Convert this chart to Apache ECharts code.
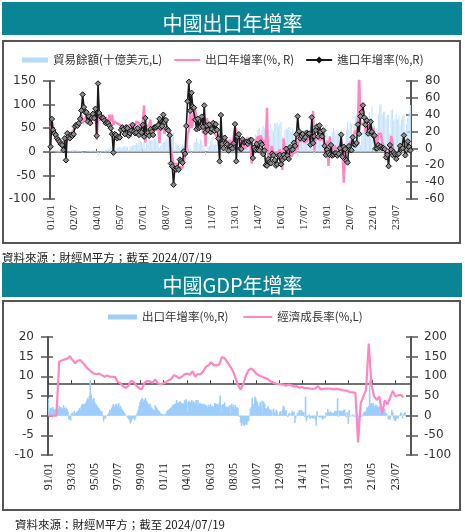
<!DOCTYPE html>
<html><head><meta charset="utf-8">
<script src="https://cdn.jsdelivr.net/npm/echarts@6/dist/echarts.min.js"></script>
<style>html,body{margin:0;padding:0;background:#fff}#c{width:465px;height:532px}</style>
</head><body><div id="c"></div>
<script>
// ---------- Chart 1: China exports (monthly 2001/01 - 2024/06) ----------
const exportYoY = [
 27,22,19,15,13,10,6,5,4,3,0,4,
 5,10,14,14,17,20,19,24,28,27,30,30,
 40,30,34,33,37,33,32,30,31,40,36,42,
 10,34,38,33,35,40,34,37,33,30,40,32,
 40,28,32,31,30,30,28,30,26,28,25,20,
 28,22,29,24,25,23,23,32,30,30,29,24,
 33,51,7,27,29,27,34,23,23,22,23,22,
 27,6.5,30.6,21.8,28.2,17.6,26.9,21.1,21.5,19.2,-2.2,-2.8,
 -17.5,-25.7,-17.1,-22.6,-26.4,-21.4,-23,-23.4,-15.2,-13.8,-1.2,17.7,
 21,45.7,24.3,30.5,48.5,43.9,38.1,34.4,25.1,22.9,34.9,17.9,
 37.7,2.4,35.8,29.9,19.4,17.9,20.4,24.5,17.1,15.9,13.8,13.4,
 -0.5,18.4,8.9,4.9,15.3,11.3,1,2.7,9.9,11.6,2.9,14.1,
 25,21.8,10,14.7,1,-3.1,5.1,7.2,-0.3,5.6,12.7,4.3,
 10.6,-18.1,-6.6,0.9,7,7.2,14.5,9.4,15.3,11.6,4.7,9.7,
 -3.3,48.3,-15,-6.4,-2.5,2.8,-8.3,-5.5,-3.7,-6.9,-6.8,-1.4,
 -11.2,-25.4,11.5,-1.8,-4.1,-4.8,-4.4,-2.8,-10,-7.3,0.1,-6.1,
 7.9,-1.3,16.4,8,8.7,11.3,7.2,5.5,8.1,6.9,12.3,10.9,
 11.1,44.5,-2.7,12.9,12.6,11.3,12.2,9.8,14.5,15.6,5.4,-4.4,
 9.1,-20.7,14.2,-2.7,1.1,-1.3,3.3,-1,-3.2,-0.9,-1.1,7.6,
 -3,-40.6,-6.6,3.5,-3.3,0.5,7.2,9.5,9.9,11.4,21.1,18.1,
 24.6,90,30.6,32.3,27.9,32.2,19.3,25.6,28.1,27.1,22,20.9,
 24.1,6.2,14.7,3.9,16.9,17.9,18,7.1,5.7,-0.3,-8.7,-9.9,
 -10,-1.3,14.8,8.5,-7.5,-12.4,-14.5,-8.8,-6.2,-6.4,0.5,2.3,
 8,5.6,-7.5,1.5,7.6,8.6
];
const importYoY = [
 2,35,22,18,16,12,10,8,5,4,-2,12,
 -14,18,14,12,16,15,17,26,28,27,30,35,
 45,64,49,43,43,32,38,30,36,41,36,47,
 15,77,42,38,36,36,33,30,31,30,27,24,
 17,-5,17,16,12,14,13,22,25,23,17,25,
 24,15,18,21,28,20,18,19,24,16,20,19,
 28,14,36,17,19,15,23,20,16,25,25,26,
 27.6,35.1,24.6,26.4,40,31.1,33.7,23.1,21.3,15.6,-17.9,-21.3,
 -43.1,-24.1,-25.1,-23,-25.2,-13.2,-14.9,-17,-3.5,-6.4,26.7,55.9,
 79,44.7,66,49.7,48.3,34.1,22.7,35.2,24.1,25.3,37.7,25.6,
 51,19.4,27.3,21.8,28.4,19.3,22.9,30.2,20.9,28.7,22.1,11.8,
 -15.3,39.6,5.3,0.3,12.7,6.3,4.7,-2.6,2.4,2.4,0,6,
 28.8,-15.2,14.1,16.8,-0.3,-0.7,10.9,7,7.4,7.6,5.3,8.3,
 10,10.1,-11.3,0.8,-1.6,5.5,-1.6,-2.4,7,4.6,-6.7,-2.4,
 -19.9,-20.5,-12.7,-16.2,-17.6,-6.1,-8.1,-13.8,-20.4,-18.8,-8.7,-7.6,
 -18.8,-13.8,-7.6,-10.9,-0.4,-8.4,-12.5,1.5,-1.9,-1.4,6.7,3.1,
 16.7,38.1,20.3,11.9,14.8,17.2,11,13.3,18.7,17.2,17.7,4.5,
 36.9,6.3,14.4,21.5,26,14.1,27.3,20,14.3,21.4,3,-7.6,
 -1.5,-5.2,-7.6,4,-8.5,-7.3,-5.6,-5.6,-8.5,-6.4,0.3,16.3,
 -10,2,-0.9,-14.2,-16.7,2.7,-1.4,-2.1,13.2,4.7,4.5,6.5,
 28.4,17.3,38.1,43.1,51.1,36.7,28.1,33.1,17.6,20.6,31.7,19.5,
 15.5,15.5,-0.1,0,4.1,1,2.3,0.3,0.3,-0.7,-10.6,-7.5,
 -21,4,-1.4,-7.9,-4.5,-6.8,-12.4,-7.3,-6.2,3,-0.6,0.2,
 15.5,-8.2,-1.9,8.4,1.8,-2.3
];
const tradeBalance = [
 2.5,1.6,1.0,0.9,2.3,3.3,2.9,2.0,1.7,2.1,1.0,0.9,
 2.2,1.0,0.4,1.6,2.3,2.6,4.3,3.9,4.1,3.6,1.9,2.2,
 1.9,-3.3,0.2,-1.0,0.8,2.6,1.8,2.4,2.3,2.6,3.3,2.2,
 1.5,-7.9,-0.5,-2.1,1.5,2.0,2.1,4.8,3.9,6.9,4.5,11.0,
 6.5,4.6,10.3,4.6,9.0,9.7,10.5,10.0,7.6,12.0,10.5,11.0,
 9.6,2.5,11.2,10.5,13.0,14.5,14.6,18.8,15.3,23.8,23.0,20.9,
 15.9,23.8,6.9,16.9,22.5,27.0,24.4,25.0,23.9,27.0,26.3,22.7,
 19.5,8.6,13.4,16.7,20.2,21.4,25.3,28.7,29.3,35.2,40.1,39.0,
 39.1,4.8,18.6,13.1,13.4,8.3,10.6,15.7,12.9,24.0,19.1,18.4,
 14.2,7.6,-7.2,1.7,19.5,20.0,28.7,20.0,16.9,27.2,22.9,13.1,
 6.5,-7.3,0.1,11.4,13.0,22.3,31.5,17.8,14.5,17.0,14.5,16.5,
 27.3,-31.5,5.4,18.4,18.7,31.7,25.2,26.7,27.7,32.0,19.6,31.6,
 29.2,15.3,-0.9,18.2,20.4,27.1,17.8,28.5,15.2,31.1,33.8,25.6,
 31.9,-23.0,7.7,18.5,35.9,31.6,47.3,49.8,31.0,45.4,54.5,49.6,
 60.0,60.6,3.1,34.1,59.5,46.5,43.0,60.2,60.3,61.5,54.1,60.1,
 63.3,32.6,29.9,45.6,50.0,48.1,52.3,52.1,41.8,49.1,44.6,40.8,
 51.4,-9.2,23.9,38.0,40.8,42.8,46.7,42.0,28.5,38.2,40.2,54.7,
 20.3,33.8,-5.0,28.8,24.9,41.6,28.1,27.9,31.7,34.0,44.7,57.1,
 39.2,4.1,32.6,13.8,41.7,51.0,45.1,34.8,39.7,42.8,38.7,46.8,
 -3.5,-3.6,19.9,45.3,62.9,46.4,62.3,58.9,37.0,58.4,75.4,78.2,
 63.4,39.0,13.8,42.9,45.5,51.5,56.6,58.3,66.8,84.5,71.7,94.5,
 60.6,55.1,47.4,51.1,78.8,97.9,101.3,79.4,84.7,85.2,69.8,78.0,
 78.0,39.0,88.2,90.2,65.8,70.6,80.6,68.4,77.7,56.5,68.4,75.3,
 80.0,45.0,58.6,72.4,82.6,99.0
];
// ---------- Chart 2: China GDP (categories 1991/01 - 2024/12) ----------
const exportYoY1991to2000 = [
 44,12,19,20,18,22,15,17,14,20,14,17,
 25,20,22,17,19,27,20,15,21,16,10,-10,
 -9,-12,5,8,3,12,7,6,10,12,15,20,
 15,25,30,28,30,28,32,38,45,40,50,90,
 55,42,38,45,35,30,28,24,20,18,14,10,
 12,2,-15,-5,-8,0,2,4,8,15,12,20,
 25,30,22,26,30,28,24,32,20,25,18,15,
 12,8,6,0,-2,-5,-8,-12,-20,-15,-10,-5,
 -8,-12,-5,3,8,15,25,35,40,45,42,35,
 40,45,38,35,30,28,30,25,20,18,15,12
];
// quarterly GDP growth 1992Q1 - 2024Q2 (plotted at quarter's first month)
const gdpQuarterly = [
 13.7,14.0,14.3,14.5, 15.1,14.2,13.3,14.0, 14.1,13.4,12.5,11.8, 11.2,10.7,10.6,10.7,
 10.3,9.9,10.2,9.9, 9.9,9.8,8.6,8.2, 7.4,7.1,7.6,8.9, 8.5,7.6,7.0,6.7,
 8.4,8.8,8.7,8.4, 9.2,8.2,8.0,8.2, 8.5,9.0,9.3,10.3, 10.0,9.5,9.9,10.5,
 10.7,10.4,11.3,9.9, 10.6,10.5,11.3,12.4, 12.8,13.6,12.8,12.8, 13.0,14.9,14.6,13.6,
 12.6,11.5,9.8,7.9, 6.6,8.0,10.2,11.6, 12.0,11.4,10.6,10.2, 9.9,9.6,9.4,8.8,
 8.5,8.2,8.0,8.0, 7.9,7.6,7.9,7.7, 7.4,7.5,7.1,7.3, 7.0,7.0,6.9,6.8,
 6.9,7.5,6.7,6.8, 6.9,6.9,6.8,6.7, 6.8,6.7,6.5,6.4, 6.3,6.0,5.9,5.8,
 -6.8,3.2,4.9,6.5, 18.3,7.9,4.9,4.0, 4.8,0.4,3.9,2.9, 4.5,6.3,4.9,5.2,
 5.3,4.7
];
const gdpLeadZeros = [0,0,0,0,0,0,0,0,0,0,0,0]; // 1991 plotted as zero
const leftTicks1 = [-100,150,50], rightTicks1 = [-60,80,20];
const leftTicks2 = [-10,20,5], rightTicks2 = [-100,200,50];

function months(y0, m0, n){
  const out=[]; let y=y0, m=m0;
  for(let i=0;i<n;i++){ out.push(String(y%100).padStart(2,'0')+'/'+String(m).padStart(2,'0')); m++; if(m>12){m=1;y++;} }
  return out;
}
const cats1 = months(2001,1,282);
const cats2 = months(1991,1,408);
const gdpMonthly = new Array(408).fill(null);
gdpLeadZeros.forEach((v,i)=>{ gdpMonthly[i]=v; });
gdpQuarterly.forEach((v,q)=>{ gdpMonthly[12+3*q]=v; });
const exports2 = exportYoY1991to2000.concat(exportYoY);

const NUM = 'DejaVu Sans', CJK = 'Noto Sans CJK TC';
const axisCol = '#555';
function yAx(grid, pos, t, main, labelMargin){
  return {
    type:'value', gridIndex:grid, position:pos, min:t[0], max:t[1], interval:t[2],
    splitLine:{show:false},
    axisLine:{show:main, lineStyle:{color:axisCol, width:2}},
    axisTick:{show:true, inside:!main, length: main?7:5, lineStyle:{color:axisCol, width:1.5}},
    axisLabel:{show:main, margin:labelMargin, color:'#333', fontFamily:NUM, fontSize:12}
  };
}
const g2h = 118;
const pink = '#ff86c3';
const option = {
  animation:false,
  backgroundColor:'#fff',
  graphic:[
    {type:'rect', shape:{x:2,y:2,width:460,height:33}, style:{fill:'#0a8596'}, z:0},
    {type:'rect', shape:{x:2,y:263,width:460,height:34}, style:{fill:'#0a8596'}, z:0},
    {type:'rect', shape:{x:3,y:41,width:457,height:202}, style:{fill:'none', stroke:'#555', lineWidth:2}, z:0},
    {type:'rect', shape:{x:3,y:301,width:457,height:209}, style:{fill:'none', stroke:'#555', lineWidth:2}, z:0}
  ],
  title:[
    {text:'中國出口年增率', left:'center', top:6, textStyle:{color:'#fff', fontSize:20, fontWeight:'normal', fontFamily:CJK, lineHeight:24}},
    {text:'中國GDP年增率', left:'center', top:268, textStyle:{color:'#fff', fontSize:20, fontWeight:'normal', fontFamily:CJK, lineHeight:24}},
    {text:'資料來源：財經M平方；截至 2024/07/19', left:0, top:251, padding:[0,0,0,2], textStyle:{color:'#222', fontSize:11.5, fontWeight:'normal', fontFamily:CJK, lineHeight:14}},
    {text:'資料來源：財經M平方；截至 2024/07/19', left:13, top:518, padding:[0,0,0,2], textStyle:{color:'#222', fontSize:11.5, fontWeight:'normal', fontFamily:CJK, lineHeight:14}}
  ],
  legend:[
    {left:22, top:53, itemWidth:26, itemHeight:5, itemGap:11, padding:0,
     textStyle:{fontFamily:CJK, fontSize:11.5, color:'#333', lineHeight:14},
     data:[{name:'貿易餘額(十億美元,L)', icon:'rect', itemStyle:{color:'#b5d9fa'}},
           {name:'出口年增率(%, R)', itemStyle:{opacity:0}, lineStyle:{color:pink, width:2}},
           {name:'進口年增率(%,R)', itemStyle:{color:'#333', borderColor:'#111'}}]},
    {left:108, top:310, itemWidth:29, itemHeight:5, itemGap:14, padding:0,
     textStyle:{fontFamily:CJK, fontSize:11.5, color:'#333', lineHeight:14},
     data:[{name:'出口年增率(%,R)', icon:'rect'},
           {name:'經濟成長率(%,L)', itemStyle:{opacity:0}, lineStyle:{color:pink, width:2}}]}
  ],
  grid:[
    {left:50, right:54, top:81, height:118},
    {left:48, right:54, top:337, height:g2h}
  ],
  xAxis:[
    {type:'category', gridIndex:0, data:cats1, boundaryGap:true,
     axisLine:{onZero:true, onZeroAxisIndex:0, lineStyle:{color:'#666', width:1.5}},
     axisTick:{show:true, inside:true, length:3, interval:35, lineStyle:{color:'#666'}},
     axisLabel:{interval:17, rotate:90, margin:6, fontFamily:'Liberation Serif', fontSize:11, color:'#222'}},
    {type:'category', gridIndex:1, data:cats2, boundaryGap:true,
     axisLine:{show:false, onZero:false}, axisTick:{show:false},
     axisLabel:{interval:25, rotate:90, margin:8, fontFamily:'Liberation Serif', fontSize:12, color:'#222'}},
    {type:'category', gridIndex:1, data:cats2, boundaryGap:true, position:'bottom',
     offset: -g2h*(8-leftTicks2[0])/(leftTicks2[1]-leftTicks2[0]),
     axisLine:{show:true, onZero:false, lineStyle:{color:'#444', width:1.5}},
     axisTick:{show:true, inside:true, length:4, interval:25, lineStyle:{color:'#444'}},
     axisLabel:{show:false}}
  ],
  yAxis:[
    yAx(0,'left',leftTicks1,true,14),
    yAx(0,'right',rightTicks1,true,14),
    yAx(0,'left',leftTicks1,false,0),
    yAx(0,'right',rightTicks1,false,0),
    yAx(1,'left',leftTicks2,true,14),
    yAx(1,'right',rightTicks2,true,13),
    yAx(1,'left',leftTicks2,false,0),
    yAx(1,'right',rightTicks2,false,0)
  ],
  series:[
    {name:'貿易餘額(十億美元,L)', type:'bar', xAxisIndex:0, yAxisIndex:0, data:tradeBalance,
     barWidth:1.1, itemStyle:{color:'#c6e2fb'}, z:1},
    {name:'出口年增率(%, R)', type:'line', xAxisIndex:0, yAxisIndex:1, data:exportYoY,
     symbol:'none', lineStyle:{color:pink, width:2.4}, itemStyle:{color:pink}, z:3},
    {name:'進口年增率(%,R)', type:'line', xAxisIndex:0, yAxisIndex:1, data:importYoY,
     symbol:'diamond', symbolSize:5.5, showAllSymbol:true,
     lineStyle:{color:'#1a1a1a', width:1.6}, itemStyle:{color:'#8a8a8a', borderColor:'#111', borderWidth:1}, z:4},
    {name:'出口年增率(%,R)', type:'bar', xAxisIndex:1, yAxisIndex:5, data:exports2,
     barWidth:1.6, itemStyle:{color:'#9dcdfb'}, z:1},
    {name:'經濟成長率(%,L)', type:'line', xAxisIndex:1, yAxisIndex:4, data:gdpMonthly, connectNulls:true,
     symbol:'none', lineStyle:{color:pink, width:2.2}, itemStyle:{color:pink}, z:3}
  ]
};
const chart = echarts.init(document.getElementById('c'), null, {renderer:'canvas'});
chart.setOption(option);
</script></body></html>
